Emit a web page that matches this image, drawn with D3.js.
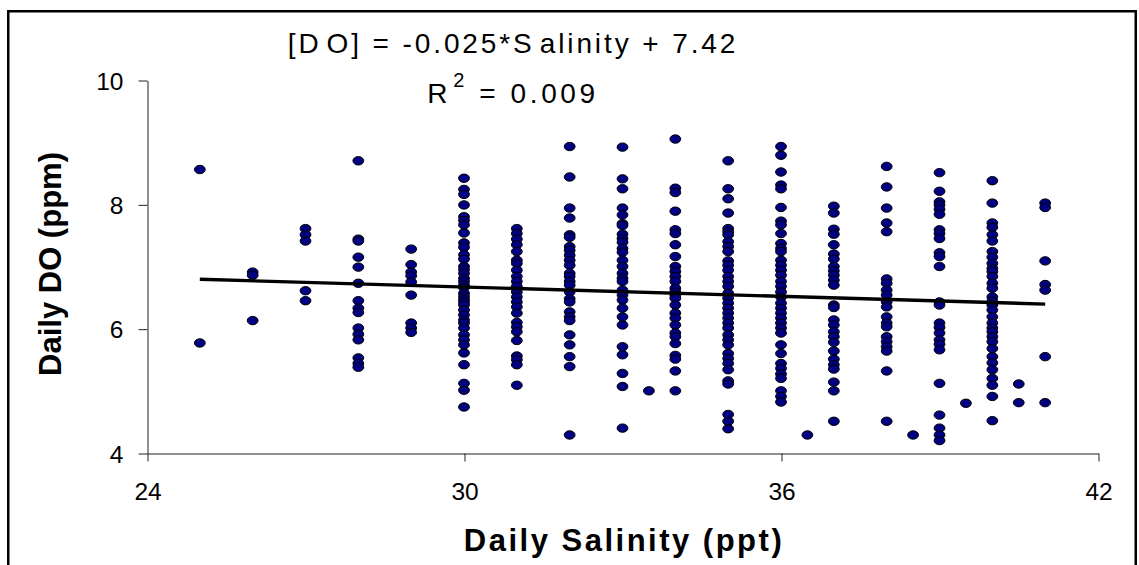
<!DOCTYPE html>
<html>
<head>
<meta charset="utf-8">
<script src="https://cdn.jsdelivr.net/npm/d3@7"></script>
<style>
  html, body { margin: 0; padding: 0; background: #fff; }
  svg { display: block; font-family: "Liberation Sans", Arial, sans-serif; }
</style>
</head>
<body>
<svg id="chart" width="1139" height="565"></svg>
<script>
// Salinity levels (ppt) and the daily DO readings (ppm) observed at each level
const salinityLevels = [25, 26, 27, 28, 29, 30, 31, 32, 33, 33.5, 34, 35, 36, 36.5, 37, 38, 38.5, 39, 39.5, 40, 40.5, 41];
const doReadings = [
  [8.56, 5.77],
  [6.91, 6.86, 6.13],
  [7.61, 7.51, 7.41, 6.61, 6.45],
  [8.70, 7.44, 7.41, 7.15, 6.99, 6.73, 6.45, 6.33, 6.26, 6.01, 5.91, 5.82, 5.53, 5.44, 5.38],
  [7.28, 7.03, 6.91, 6.85, 6.75, 6.54, 6.09, 6.01, 5.94],
  [8.42, 8.24, 8.16, 7.99, 7.80, 7.74, 7.67, 7.54, 7.38, 7.31, 7.19, 7.12, 7.00, 6.95, 6.89, 6.81, 6.76, 6.70, 6.66, 6.57, 6.52, 6.47, 6.43, 6.38, 6.30, 6.22, 6.14, 6.09, 6.01, 5.90, 5.82, 5.74, 5.61, 5.42, 5.12, 5.01, 4.74],
  [7.61, 7.53, 7.44, 7.35, 7.24, 7.10, 7.05, 6.94, 6.84, 6.76, 6.68, 6.59, 6.51, 6.43, 6.35, 6.25, 6.10, 6.03, 5.95, 5.81, 5.56, 5.50, 5.42, 5.09],
  [8.93, 8.44, 7.94, 7.78, 7.51, 7.47, 7.32, 7.26, 7.18, 7.10, 7.02, 6.89, 6.84, 6.76, 6.70, 6.59, 6.48, 6.43, 6.27, 6.19, 6.13, 5.90, 5.74, 5.55, 5.39, 4.29],
  [8.92, 8.41, 8.25, 7.94, 7.83, 7.69, 7.66, 7.52, 7.45, 7.39, 7.29, 7.23, 7.10, 7.00, 6.89, 6.81, 6.76, 6.62, 6.54, 6.46, 6.33, 6.19, 6.06, 5.71, 5.58, 5.28, 5.07, 4.40],
  [5.00],
  [9.05, 8.26, 8.19, 7.89, 7.59, 7.53, 7.35, 7.16, 7.00, 6.92, 6.84, 6.76, 6.65, 6.59, 6.54, 6.49, 6.38, 6.25, 6.17, 6.06, 5.93, 5.87, 5.76, 5.57, 5.51, 5.32, 5.00],
  [8.70, 8.25, 8.09, 7.86, 7.61, 7.56, 7.51, 7.40, 7.32, 7.24, 7.09, 7.02, 6.94, 6.84, 6.76, 6.68, 6.57, 6.49, 6.41, 6.33, 6.25, 6.17, 6.09, 6.01, 5.90, 5.82, 5.74, 5.60, 5.52, 5.44, 5.34, 5.16, 5.11, 4.62, 4.51, 4.39],
  [8.93, 8.79, 8.52, 8.31, 8.25, 7.95, 7.73, 7.67, 7.53, 7.37, 7.29, 7.24, 7.10, 7.02, 6.94, 6.86, 6.76, 6.68, 6.59, 6.51, 6.41, 6.33, 6.25, 6.17, 6.09, 6.01, 5.93, 5.74, 5.60, 5.44, 5.36, 5.27, 5.20, 5.00, 4.91, 4.82],
  [4.29],
  [7.97, 7.86, 7.60, 7.52, 7.35, 7.20, 7.12, 7.00, 6.93, 6.86, 6.78, 6.70, 6.38, 6.34, 6.14, 6.06, 5.95, 5.87, 5.78, 5.64, 5.51, 5.42, 5.35, 5.14, 5.00, 4.51],
  [8.61, 8.28, 7.94, 7.70, 7.56, 6.80, 6.73, 6.62, 6.54, 6.43, 6.35, 6.19, 6.09, 6.03, 5.87, 5.79, 5.71, 5.64, 5.32, 4.51],
  [4.29],
  [8.51, 8.21, 8.04, 7.99, 7.92, 7.84, 7.59, 7.53, 7.45, 7.22, 7.16, 7.00, 6.43, 6.38, 6.09, 6.02, 5.93, 5.82, 5.75, 5.66, 5.12, 4.61, 4.40, 4.29, 4.20],
  [4.80],
  [8.38, 8.02, 7.70, 7.63, 7.51, 7.41, 7.24, 7.15, 7.05, 6.97, 6.92, 6.84, 6.73, 6.65, 6.51, 6.44, 6.38, 6.30, 6.19, 6.09, 6.01, 5.95, 5.87, 5.79, 5.68, 5.55, 5.45, 5.34, 5.20, 5.09, 4.91, 4.52],
  [5.11, 4.81],
  [8.02, 7.95, 7.09, 6.71, 6.62, 5.55, 4.81]
];
// Linear trend: [DO] = slope * Salinity + intercept, drawn over the salinity range
const trendSlope = -0.025;
const trendIntercept = 7.42;
const trendRange = [25, 41];
const xTicks = [24, 30, 36, 42];
const yTicks = [4, 6, 8, 10];
const xTitle = "Daily Salinity (ppt)";
const yTitle = "Daily DO (ppm)";
const equationParts = ["[D", "O] = -0.025*S", "alinity + 7.42"];
const r2Value = "0.009";

const points = [];
salinityLevels.forEach((s, i) => doReadings[i].forEach(v => points.push({ s, v })));

const svg = d3.select("#chart");
const x = d3.scaleLinear().domain([24, 42]).range([147, 1098]);
const y = d3.scaleLinear().domain([4, 10]).range([453, 80]);

// outer border
svg.append("rect")
  .attr("x", 8.25).attr("y", 11.25)
  .attr("width", 1127.5).attr("height", 600)
  .attr("fill", "none").attr("stroke", "#000").attr("stroke-width", 2.5);

// axes
const gx = svg.append("g").attr("transform", "translate(0.5,453.5)")
  .call(d3.axisBottom(x).tickValues(xTicks).tickSize(8).tickSizeOuter(0).tickPadding(21).tickFormat(d3.format("d")));
const gy = svg.append("g").attr("transform", "translate(147.5,0.5)")
  .call(d3.axisLeft(y).tickValues(yTicks).tickSize(9).tickSizeOuter(0).tickPadding(15).tickFormat(d3.format("d")));
[gx, gy].forEach(g => {
  g.selectAll("path, line").attr("stroke", "#222").attr("stroke-width", 1);
  g.selectAll("text").attr("fill", "#000")
    .style("font-family", '"Liberation Sans", Arial, sans-serif').style("font-size", "24.5px");
});
gy.selectAll("text").attr("dy", "0.36em");

// points
svg.append("g").selectAll("ellipse").data(points).join("ellipse")
  .attr("cx", d => x(d.s)).attr("cy", d => y(d.v))
  .attr("rx", 5.4).attr("ry", 4.2)
  .attr("fill", "#000080").attr("stroke", "#000").attr("stroke-width", 1);

// trend line
svg.append("line")
  .attr("x1", x(trendRange[0])).attr("y1", y(trendSlope * trendRange[0] + trendIntercept))
  .attr("x2", x(trendRange[1])).attr("y2", y(trendSlope * trendRange[1] + trendIntercept))
  .attr("stroke", "#000").attr("stroke-width", 3.4);

// equation and R²
const eq = svg.append("text")
  .attr("x", 513).attr("y", 53)
  .attr("text-anchor", "middle")
  .style("font-size", "28px").style("letter-spacing", "2.9px");
equationParts.forEach((p, i) => eq.append("tspan").attr("dx", i ? 5 : 0).text(p));

const r2 = svg.append("text")
  .attr("x", 513).attr("y", 103)
  .attr("text-anchor", "middle")
  .style("font-size", "28px").style("letter-spacing", "3.6px");
r2.append("tspan").text("R");
r2.append("tspan").attr("dy", -16).attr("dx", 2).style("font-size", "20px").text("2");
r2.append("tspan").attr("dy", 16).text(" = " + r2Value);

// axis titles
svg.append("text")
  .attr("x", 624).attr("y", 551)
  .attr("text-anchor", "middle")
  .style("font-size", "31px").style("font-weight", "bold").style("letter-spacing", "2.5px")
  .text(xTitle);
svg.append("text")
  .attr("transform", "translate(61,264) rotate(-90)")
  .attr("text-anchor", "middle")
  .style("font-size", "31px").style("font-weight", "bold")
  .text(yTitle);
</script>
</body>
</html>
